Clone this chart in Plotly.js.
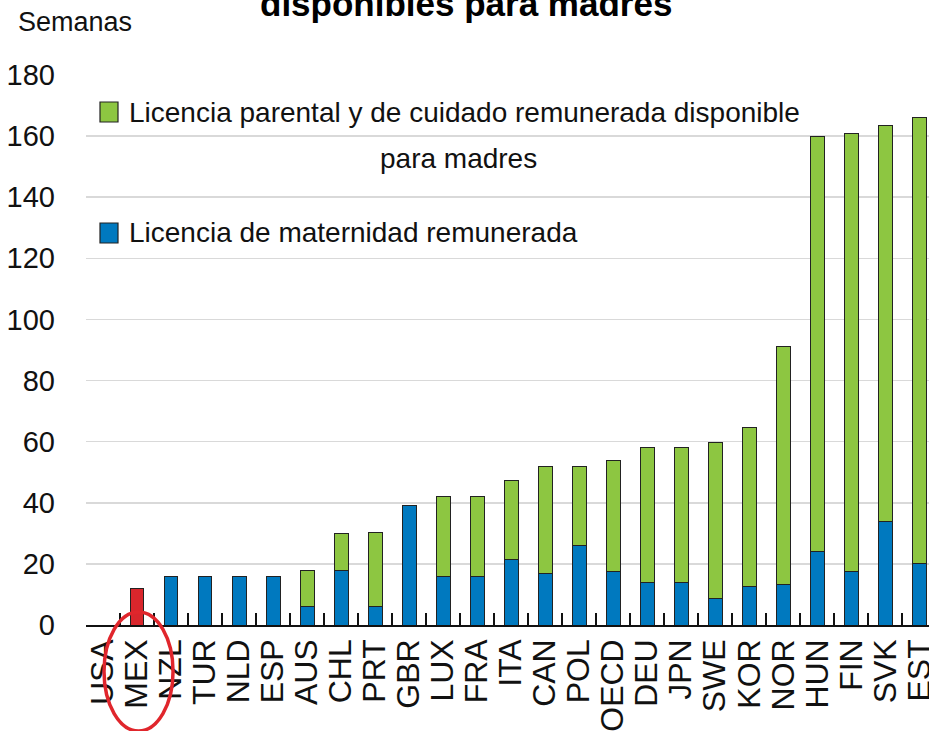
<!DOCTYPE html>
<html>
<head>
<meta charset="utf-8">
<script src="https://cdn.plot.ly/plotly-3.0.1.min.js"></script>
<style>html,body{margin:0;padding:0;background:#fff;}#chart{width:929px;height:731px;}</style>
</head>
<body>
<div id="chart"></div>
<script>
var categories = ['USA','MEX','NZL','TUR','NLD','ESP','AUS','CHL','PRT','GBR','LUX','FRA','ITA','CAN','POL','OECD','DEU','JPN','SWE','KOR','NOR','HUN','FIN','SVK','EST'];
var maternityWeeks = [0,12,16,16,16,16,6,18,6,39,16,16,21.6,17,26,17.6,14,14,8.6,12.7,13.1,24,17.6,34,20];
var parentalWeeks = [0,0,0,0,0,0,12,12,24.3,0,26,26,25.8,35,26,36.4,44,44,51.1,51.8,77.9,136,143.4,129.5,146];
var yTicks = [0,20,40,60,80,100,120,140,160,180];
var seriesNames = ['Licencia de maternidad remunerada', 'Licencia parental y de cuidado remunerada disponible para madres'];
var legendLine1 = 'Licencia parental y de cuidado remunerada disponible';
var legendLine2 = 'para madres';
var highlight = 'MEX';

var BLUE = '#0079BF', GREEN = '#8DC641', RED = '#D9262C';
var font = '"Liberation Sans", Arial, sans-serif';

var W = 929, H = 731, M = {l: 86, r: 0, t: 75, b: 106};
var PW = W - M.l - M.r, PH = H - M.t - M.b;
function px(x) { return (x - M.l) / PW; }
function py(y) { return (H - M.b - y) / PH; }

var traces = [
  {
    type: 'bar', x: categories, y: maternityWeeks, name: seriesNames[0],
    marker: {color: categories.map(function(c){return c === highlight ? RED : BLUE;}),
             line: {color: '#222', width: 1}}
  },
  {
    type: 'bar', x: categories, y: parentalWeeks, name: seriesNames[1],
    marker: {color: GREEN, line: {color: '#222', width: 1}}
  }
];

function note(text, x, y, xanchor, size, bold) {
  return {text: bold ? '<b>' + text + '</b>' : text, xref: 'paper', yref: 'paper',
          x: px(x), y: py(y), xanchor: xanchor, yanchor: 'middle', showarrow: false,
          font: {family: font, size: size, color: bold ? '#000' : '#111'}};
}
function box(x, y, color) {
  return {type: 'rect', xref: 'paper', yref: 'paper', x0: px(x - 9), x1: px(x + 9),
          y0: py(y - 10), y1: py(y + 10), fillcolor: color, line: {color: '#222', width: 1.2}};
}

var layout = {
  width: W, height: H,
  margin: M,
  paper_bgcolor: '#fff', plot_bgcolor: '#fff',
  barmode: 'stack', bargap: 0.59,
  showlegend: false,
  xaxis: {
    type: 'category', range: [-0.5, 24.29], automargin: false,
    tickmode: 'array', tickvals: categories, ticktext: categories,
    showline: true, linecolor: '#111', linewidth: 1.5,
    ticks: 'inside', tickson: 'boundaries', ticklen: 12, tickwidth: 1.5, tickcolor: '#111',
    tickangle: -90, ticklabelstandoff: 0,
    tickfont: {family: font, size: 32, color: '#111'},
    showgrid: false, fixedrange: true
  },
  yaxis: {
    range: [0, 180], tickvals: yTicks, ticktext: yTicks.map(String), automargin: false,
    showline: false, zeroline: false, ticks: '',
    showgrid: true, gridcolor: '#d9d9d9', gridwidth: 1.5,
    ticklabelstandoff: 30,
    tickfont: {family: font, size: 29, color: '#111'}, fixedrange: true
  },
  annotations: [
    note('disponibles para madres', 466, 3, 'center', 35, true),
    note('Semanas', 75, 22, 'center', 27, false),
    note(legendLine1, 127, 112, 'left', 28, false),
    note(legendLine2, 458, 158, 'center', 28, false),
    note(seriesNames[0], 127, 233, 'left', 28, false)
  ],
  shapes: [
    box(109, 112, GREEN),
    box(109, 233, BLUE),
    {type: 'circle', xref: 'x', yref: 'paper', x0: 0.03, x1: 2.06, y0: py(612), y1: py(731),
     line: {color: '#E0262C', width: 3.5}, fillcolor: 'rgba(0,0,0,0)'}
  ]
};

Plotly.newPlot('chart', traces, layout, {displayModeBar: false, staticPlot: true});
</script>
</body>
</html>
